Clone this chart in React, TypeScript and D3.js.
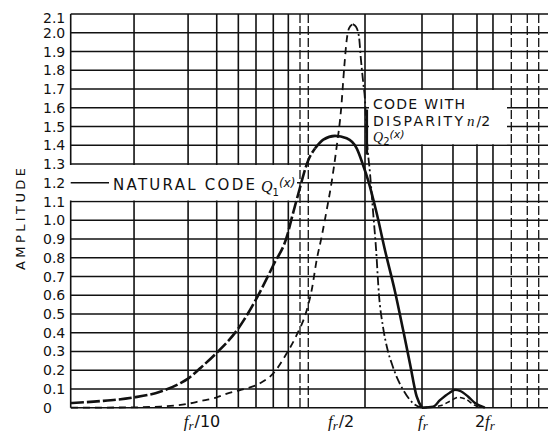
import React from 'react';
import * as d3 from 'd3';

// ---- data ----
const amplitudeTicks = [0, 0.1, 0.2, 0.3, 0.4, 0.5, 0.6, 0.7, 0.8, 0.9, 1.0, 1.1, 1.2, 1.3, 1.4, 1.5, 1.6, 1.7, 1.8, 1.9, 2.0, 2.1];
const amplitudeLabels = ['0', '0.1', '0.2', '0.3', '0.4', '0.5', '0.6', '0.7', '0.8', '0.9', '1.0', '1.1', '1.2', '1.3', '1.4', '1.5', '1.6', '1.7', '1.8', '1.9', '2.0', '2.1'];

// vertical grid lines of the semi-log paper (frequency in units of f_r)
const gridFreqs = [0.0419, 0.076, 0.1042, 0.1322, 0.1606, 0.1943, 0.2293, 0.2608, 0.2857, 0.5337, 1, 1.407, 1.833, 2.186, 2.675, 3.19, 3.618];
const gridDashed = [false, false, false, false, false, false, false, true, true, false, false, false, false, false, true, true, true];

const freqTicks = [0.1, 0.5, 1, 2];
const freqLabelPre = ['', '', '', '2'];
const freqLabelTail = ['/10', '/2', '', ''];
const freqLabelShift = [-11, -18, 1, 0];

// Natural code Q1(x)
const q1Freq = [0.0209, 0.0288, 0.0419, 0.0558, 0.0695, 0.076, 0.0867, 0.1042, 0.1322, 0.1606, 0.1943, 0.2267, 0.2379, 0.2558, 0.2857, 0.3076, 0.3371, 0.3836, 0.4361, 0.4871, 0.5203, 0.5534, 0.6071, 0.6652, 0.7426, 0.8138, 0.8761, 0.943, 1.0,
  1.129, 1.219, 1.357, 1.438, 1.52, 1.66, 1.793, 2.0];
const q1Amp = [0.025, 0.035, 0.055, 0.085, 0.13, 0.155, 0.21, 0.293, 0.423, 0.578, 0.76, 0.92, 1.01, 1.14, 1.32, 1.383, 1.43, 1.45, 1.437, 1.383, 1.30, 1.21, 1.037, 0.84, 0.62, 0.41, 0.235, 0.06, 0,
  0.005, 0.04, 0.08, 0.095, 0.09, 0.06, 0.025, 0];

// Code with disparity n/2, Q2(x)
const q2Freq = [0.0209, 0.0419, 0.0558, 0.0752, 0.0867, 0.1042, 0.1167, 0.1346, 0.1678, 0.1943, 0.2253, 0.2515, 0.2808, 0.2967, 0.3134, 0.3311, 0.3499, 0.3697, 0.3906, 0.4098, 0.4248, 0.4361, 0.4474, 0.4661, 0.4833, 0.4994, 0.5105, 0.5237, 0.5337, 0.5437, 0.564, 0.5829, 0.6025, 0.6227, 0.6506, 0.6877, 0.7161, 0.7594, 0.8138, 0.9088, 1.0,
  1.219, 1.361, 1.487, 1.624, 1.773, 1.894];
const q2Amp = [0, 0.002, 0.006, 0.02, 0.035, 0.055, 0.075, 0.094, 0.13, 0.183, 0.29, 0.388, 0.52, 0.628, 0.788, 0.913, 1.054, 1.205, 1.392, 1.588, 1.819, 1.96, 2.023, 2.046, 2.032, 1.979, 1.855, 1.73, 1.641, 1.45, 1.25, 1.05, 0.85, 0.6, 0.432, 0.3, 0.237, 0.16, 0.094, 0.023, 0,
  0.01, 0.035, 0.055, 0.045, 0.015, 0];

const W = 548;
const H = 434;
const SANS = '"DejaVu Sans", "Liberation Sans", sans-serif';
const SERIF = '"Liberation Serif", "DejaVu Serif", serif';

export default function App() {
  const x = d3.scaleLog().domain([0.02085, 4.008]).range([70.7, 548]);
  const y = d3.scaleLinear().domain([0, 2.1]).range([407.7, 14]);
  const line = d3.line<[number, number]>().x(d => x(d[0])).y(d => y(d[1])).curve(d3.curveMonotoneX);

  const q1: [number, number][] = q1Freq.map((f, i) => [f, q1Amp[i]]);
  const q2: [number, number][] = q2Freq.map((f, i) => [f, q2Amp[i]]);
  const q1Dashed = q1.filter(d => d[0] <= 0.3076);
  const q1Solid = q1.filter(d => d[0] >= 0.3076 && d[0] <= 1);
  const q1Lobe = q1.filter(d => d[0] >= 1);
  const q2Rise = q2.filter(d => d[0] <= 0.4661);
  const q2Fall = q2.filter(d => d[0] >= 0.4661 && d[0] <= 1);
  const q2Lobe = q2.filter(d => d[0] >= 1);

  const x0 = x.range()[0];
  const x1 = x.range()[1];
  const gridW = 1.6;

  return (
    <svg width={W} height={H} style={{ position: 'absolute', left: 0, top: 0, background: '#fff' }} xmlns="http://www.w3.org/2000/svg">
      <rect x={0} y={0} width={W} height={H} fill="#fff" />
      {/* horizontal grid */}
      {amplitudeTicks.map((t, i) => (
        <line key={'h' + i} x1={x0} x2={x1} y1={y(t)} y2={y(t)} stroke="#111" strokeWidth={gridW} />
      ))}
      {/* left border */}
      <line x1={x0} x2={x0} y1={y(2.1)} y2={y(0)} stroke="#111" strokeWidth={gridW} />
      {/* vertical grid */}
      {gridFreqs.map((f, i) => (
        <line key={'v' + i} x1={x(f)} x2={x(f)} y1={y(2.1)} y2={y(0)} stroke="#111" strokeWidth={gridDashed[i] ? 1.3 : gridW}
          strokeDasharray={gridDashed[i] ? '9 3' : undefined} />
      ))}

      {/* label boxes */}
      <rect x={x0 - 2} y={y(1.3) + 1} width={297 - x0 + 2} height={y(1.1) - y(1.3) - 2} fill="#fff" />
      <line x1={x0} x2={109} y1={y(1.2)} y2={y(1.2)} stroke="#111" strokeWidth={gridW} />
      <rect x={369} y={y(1.7) + 1} width={507 - 369} height={y(1.4) - y(1.7) - 2} fill="#fff" />

      {/* y tick labels */}
      {amplitudeTicks.map((t, i) => (
        <text key={'yl' + i} x={43} y={y(t) + (t > 2.05 ? 4 : 0)} dy="0.36em" fontFamily={SANS} fontSize={14} fill="#111">
          {amplitudeLabels[i]}
        </text>
      ))}

      {/* y axis title */}
      <text transform="translate(25,219) rotate(-90)" textAnchor="middle" fontFamily={SANS} fontSize={13} fill="#111"
        textLength={102} lengthAdjust="spacing">AMPLITUDE</text>

      {/* x tick labels */}
      {freqTicks.map((f, i) => (
        <text key={'xl' + i} x={x(f) + freqLabelShift[i]} y={427} textAnchor="middle" fontSize={16} fill="#111" fontFamily={SANS}>
          {freqLabelPre[i] && <tspan>{freqLabelPre[i]}</tspan>}
          <tspan fontFamily={SERIF} fontStyle="italic" fontSize={17}>f</tspan>
          <tspan fontFamily={SERIF} fontStyle="italic" fontSize={13} dy={3}>r</tspan>
          {freqLabelTail[i] && <tspan dy={-3} dx={1}>{freqLabelTail[i]}</tspan>}
        </text>
      ))}

      {/* curves */}
      <g fill="none" stroke="#111" strokeLinecap="butt">
        <path d={line(q1Dashed) || ''} strokeWidth={2.6} strokeDasharray="13 3" />
        <path d={line(q1Solid) || ''} strokeWidth={2.6} />
        <path d={line(q1Lobe) || ''} strokeWidth={2.4} />
        <path d={line(q2Rise) || ''} strokeWidth={1.8} strokeDasharray="7 5" />
        <path d={line(q2Fall) || ''} strokeWidth={1.8} strokeDasharray="9 3 2 3" />
        <path d={line(q2Lobe) || ''} strokeWidth={1.6} strokeDasharray="5 3" />
      </g>

      {/* leader for Q2 label */}
      <line x1={x(0.5337) + 1.8} x2={x(0.5337) + 1.8} y1={y(1.59)} y2={y(1.35)} stroke="#111" strokeWidth={2.6} />

      {/* annotations */}
      <text x={113} y={190} fontFamily={SANS} fontSize={15} fill="#111" textLength={142} lengthAdjust="spacing">NATURAL CODE</text>
      <text x={261} y={192} fontFamily={SANS} fontSize={15} fill="#111">
        <tspan fontFamily={SERIF} fontStyle="italic" fontSize={16}>Q</tspan>
        <tspan fontSize={10} dy={4}>1</tspan>
        <tspan fontSize={12} dy={-9} fontStyle="italic">(x)</tspan>
      </text>

      <text x={373} y={109} fontFamily={SANS} fontSize={14} fill="#111" textLength={92} lengthAdjust="spacing">CODE WITH</text>
      <text x={373} y={126} fontFamily={SANS} fontSize={14} fill="#111" textLength={90} lengthAdjust="spacing">DISPARITY</text>
      <text x={467} y={126} fontFamily={SANS} fontSize={14} fill="#111">
        <tspan fontFamily={SERIF} fontStyle="italic" fontSize={15}>n</tspan>
        <tspan dx={2}>/2</tspan>
      </text>
      <text x={373} y={142} fontFamily={SANS} fontSize={14} fill="#111">
        <tspan fontFamily={SERIF} fontStyle="italic" fontSize={14}>Q</tspan>
        <tspan fontSize={10} dy={3}>2</tspan>
        <tspan fontSize={11} dy={-7} fontStyle="italic">(x)</tspan>
      </text>
    </svg>
  );
}
